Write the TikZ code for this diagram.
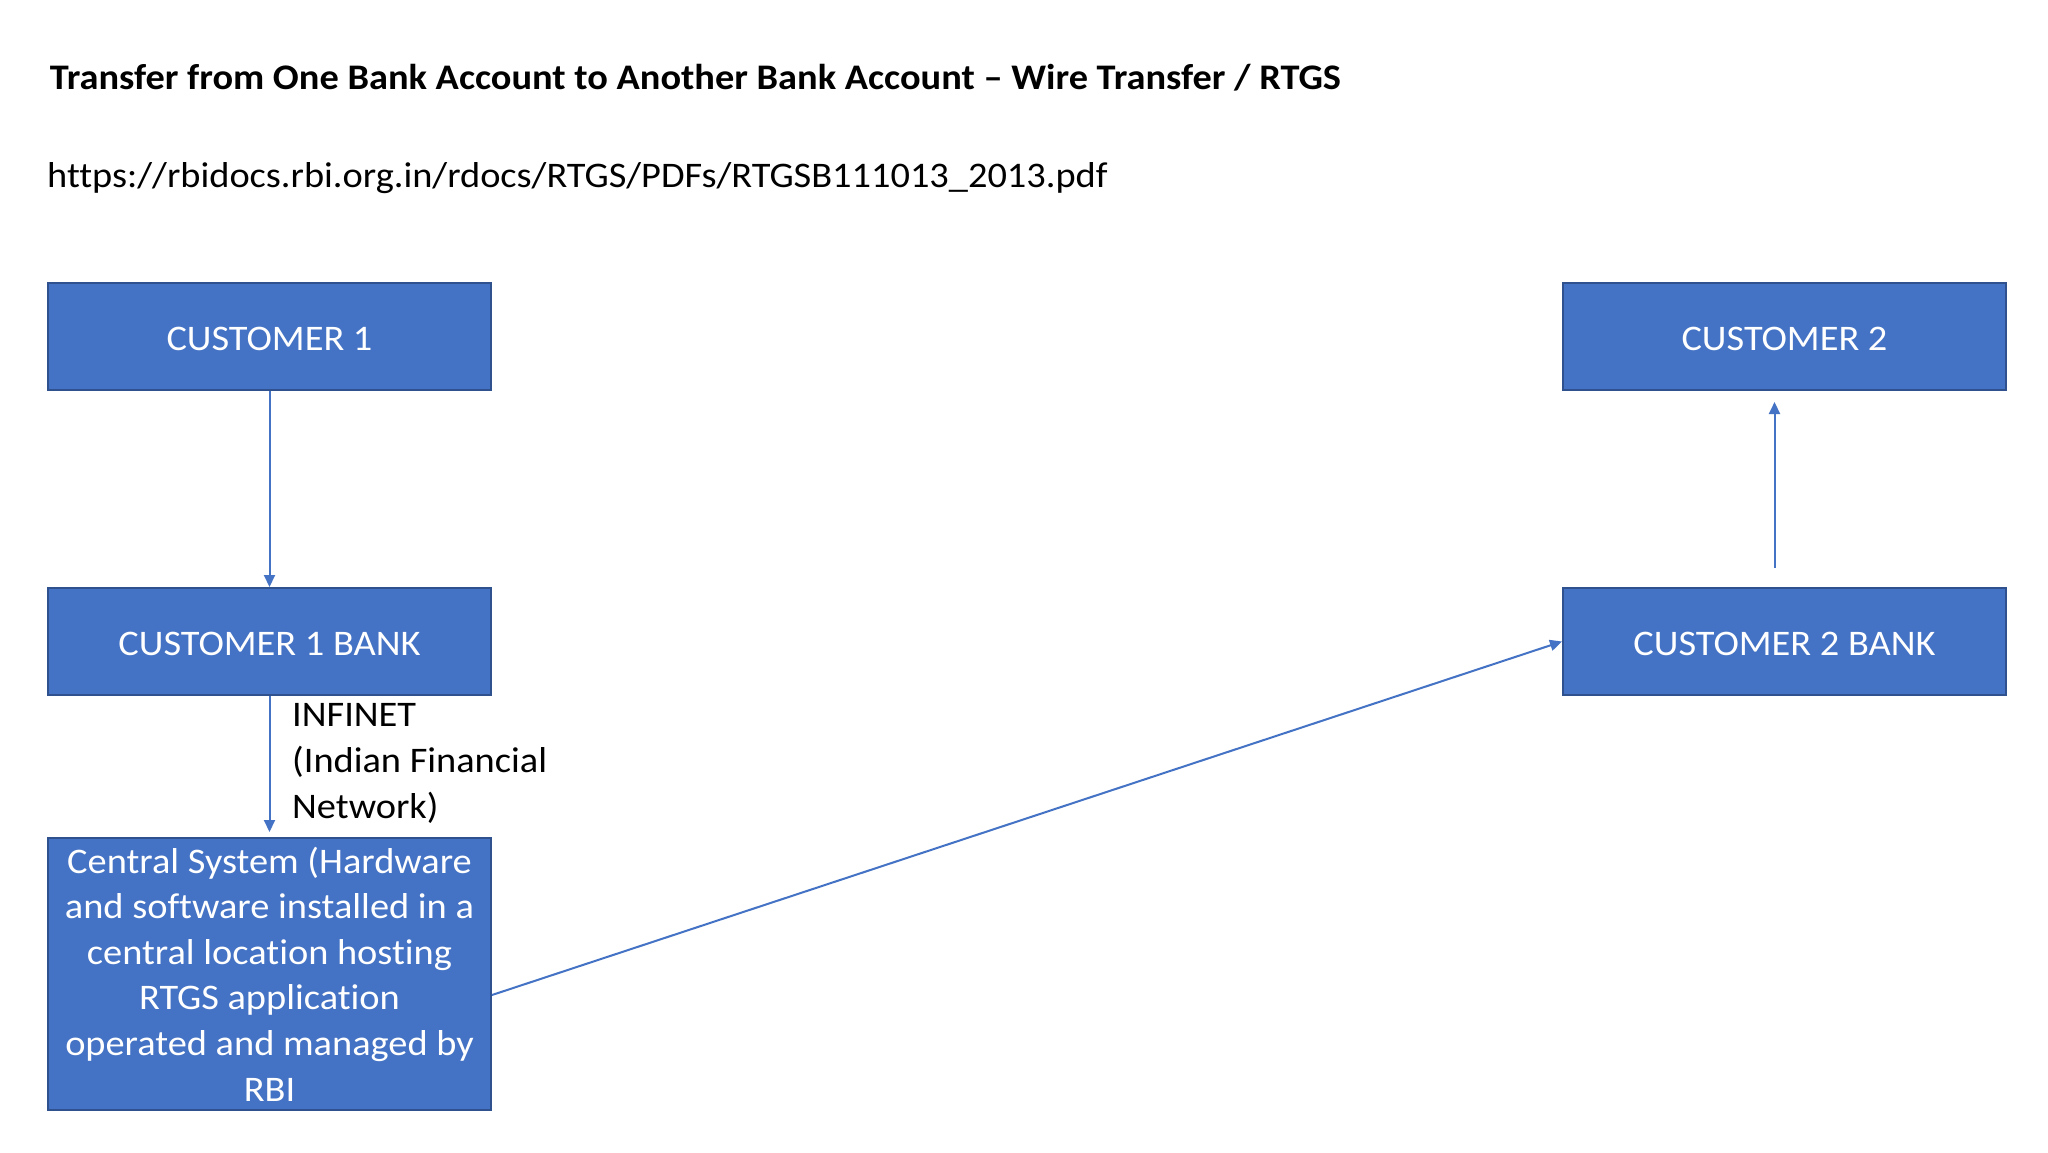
\documentclass[tikz,border=0pt]{standalone}
\usepackage{fontspec}
\setmainfont{Carlito}[FakeStretch=1.066,Ligatures=NoCommon]
\usetikzlibrary{arrows.meta}
\definecolor{boxfill}{HTML}{4472C4}
\definecolor{boxline}{HTML}{2F528F}
\definecolor{arrowcol}{HTML}{4472C4}
\newcommand{\lowertext}[1]{\raisebox{-2.5pt}[\height][\depth]{#1}}
\begin{document}
\begin{tikzpicture}[x=1pt,y=1pt,
  bluebox/.style={draw=boxline,line width=2pt,fill=boxfill,text=white,
    minimum width=443pt,minimum height=107pt,inner sep=0pt,
    font=\fontsize{36}{45.6}\selectfont,align=center},
  flow/.style={draw=arrowcol,line width=2pt,-{Triangle[length=12pt,width=11pt]}}]
\fill[white] (0,0) rectangle (2048,-1152);
\useasboundingbox (0,0) rectangle (2048,-1152);
\node[anchor=base west,inner sep=0pt,font=\fontsize{36}{42}\selectfont\bfseries] (title) at (49.6,-89.3)
  {Transfer from One Bank Account to Another Bank Account – Wire Transfer / RTGS};
\node[anchor=base west,inner sep=0pt,font=\fontsize{36}{44}\selectfont] (url) at (47,-187.5)
  {https://rbidocs.rbi.org.in/rdocs/RTGS/PDFs/RTGSB111013\_2013.pdf};
\node[bluebox] (c1) at (269.5,-336.5) {\lowertext{CUSTOMER 1}};
\node[bluebox] (b1) at (269.5,-641.5) {\lowertext{CUSTOMER 1 BANK}};
\node[bluebox,minimum height=272pt] (cs) at (269.5,-974)
  {Central System (Hardware\\and software installed in a\\central location hosting\\RTGS application\\operated and managed by\\RBI};
\node[bluebox] (c2) at (1784.5,-336.5) {\lowertext{CUSTOMER 2}};
\node[bluebox] (b2) at (1784.5,-641.5) {\lowertext{CUSTOMER 2 BANK}};
\node[anchor=base west,inner sep=0pt,align=left,font=\fontsize{36}{46}\selectfont] (infinet) at (292,-818)
  {INFINET\\(Indian Financial\\Network)};
\draw[flow] (c1.south) -- (b1.north);
\draw[flow,shorten >=5pt] (b1.south) -- (cs.north);
\draw[flow] (cs.east |- 0,-995) -- (b2.west);
\draw[flow,shorten <=19pt,shorten >=11pt] ([xshift=-10pt]b2.north) -- ([xshift=-10pt]c2.south);
\end{tikzpicture}
\end{document}
